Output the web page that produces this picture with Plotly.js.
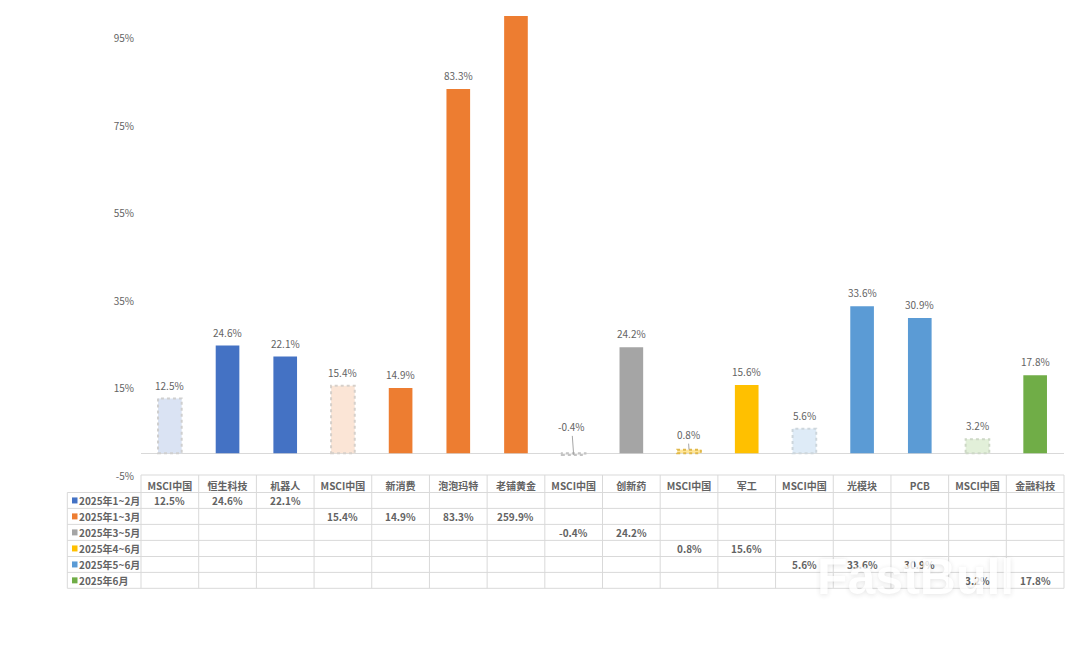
<!DOCTYPE html>
<html><head><meta charset="utf-8">
<script src="https://cdn.plot.ly/plotly-3.0.1.min.js"></script>
<style>html,body{margin:0;padding:0;background:#fff}#c{width:1080px;height:645px}</style>
</head><body><div id="c"></div>
<script>
const categories = ['MSCI中国','恒生科技','机器人','MSCI中国','新消费','泡泡玛特','老铺黄金','MSCI中国','创新药','MSCI中国','军工','MSCI中国','光模块','PCB','MSCI中国','金融科技'];
const seriesNames = ['2025年1~2月','2025年1~3月','2025年3~5月','2025年4~6月','2025年5~6月','2025年6月'];
const s1 = [12.5,24.6,22.1];
const s2 = [15.4,14.9,83.3,259.9];
const s3 = [-0.4,24.2];
const s4 = [0.8,15.6];
const s5 = [5.6,33.6,30.9];
const s6 = [3.2,17.8];
const seriesValues = [s1,s2,s3,s4,s5,s6];
const yTickValues = [-5,15,35,55,75,95];
const yTickLabels = ['-5%','15%','35%','55%','75%','95%'];
const seriesColors = ['#4472C4','#ED7D31','#A5A5A5','#FFC000','#5B9BD5','#70AD47'];
const lightColors = ['#DAE3F3','#FBE5D6','#EDEDED','#FFE699','#DEEBF7','#E2F0D9'];
const dotColors = ['#CFCFCF','#D6D0CA','#C4C4C4','#E0B84A','#CDD6DC','#CDD8C6'];

const W=1080,H=645,L=141,R=1064,T=16,B=475;
const N=categories.length;
const py=p=>1-(p-T)/(B-T), px=p=>(p-L)/(R-L);
const GRID='#D9D9D9', TXT='#636363', FONT='"Noto Sans CJK SC","Noto Sans",sans-serif';
const rowLines=[475,492.5,508.4,524.4,540.4,556.5,572.4,588.3];
const traces=[],shapes=[],ann=[];
let idx=0;
const line=(x0,y0,x1,y1)=>({type:'line',xref:'paper',yref:'paper',x0:px(x0),x1:px(x1),y0:py(y0),y1:py(y1),line:{color:GRID,width:1},layer:'below'});
seriesValues.forEach((vals,s)=>{
  const xs=vals.map((_,k)=>idx+k);
  const isLight=xs.map(i=>categories[i]==='MSCI中国');
  traces.push({type:'bar',x:xs,y:vals,name:seriesNames[s],width:0.41,showlegend:false,hoverinfo:'skip',
    marker:{color:isLight.map(b=>b?lightColors[s]:seriesColors[s]),line:{width:0}}});
  const ym=(rowLines[s+1]+rowLines[s+2])/2;
  vals.forEach((v,k)=>{
    const i=xs[k], label=v.toFixed(1)+'%';
    if(isLight[k]) shapes.push({type:'rect',xref:'x',yref:'y',x0:i-0.205,x1:i+0.205,y0:Math.min(v,0),y1:Math.max(v,0),
      line:{color:dotColors[s],width:2,dash:'dot'},layer:'above'});
    if(Math.abs(v)<1){
      ann.push({x:i,y:v,xref:'x',yref:'y',text:label,showarrow:true,arrowhead:0,arrowwidth:1,arrowcolor:'#A6A6A6',
        ax:v<0?-2:-1,ay:v<0?-28:-15,font:{size:10,color:TXT,family:FONT}});
    } else if(v<=100){
      ann.push({x:i,y:v,xref:'x',yref:'y',text:label,showarrow:false,yanchor:'bottom',yshift:4,font:{size:10,color:TXT,family:FONT}});
    }
    ann.push({x:i,y:py(ym),xref:'x',yref:'paper',xanchor:'center',yanchor:'middle',text:label,showarrow:false,
      font:{size:10,color:TXT,family:FONT,weight:600}});
  });
  idx+=vals.length;
  shapes.push({type:'rect',xref:'paper',yref:'paper',x0:px(72),x1:px(77.5),y0:py(ym-3),y1:py(ym+3),fillcolor:seriesColors[s],line:{width:0}});
  ann.push({x:px(77),y:py(ym),xref:'paper',yref:'paper',xanchor:'left',yanchor:'middle',text:seriesNames[s],showarrow:false,font:{size:10,color:TXT,family:FONT,weight:600}});
});
rowLines.forEach((y,i)=>shapes.push(line(i===0?L:67.3,y,R,y)));
shapes.push(line(67.3,492.5,67.3,588.3));
for(let i=0;i<=N;i++){const x=L+(R-L)*i/N;shapes.push(line(x,475,x,588.3));}
ann.push({x:px(915),y:py(577),xref:'paper',yref:'paper',xanchor:'center',yanchor:'middle',text:'FastBull',showarrow:false,opacity:0.8,
  font:{size:50,color:'#FFFFFF',family:'"Liberation Sans",sans-serif',weight:700,shadow:'0 1px 5px rgba(0,0,0,0.13)'}});

Plotly.newPlot('c',traces,{
  width:W,height:H,margin:{l:L,r:W-R,t:T,b:H-B,pad:0},paper_bgcolor:'#fff',plot_bgcolor:'#fff',
  barmode:'overlay',showlegend:false,
  xaxis:{range:[-0.5,N-0.5],tickmode:'array',tickvals:categories.map((_,i)=>i),ticktext:categories,showgrid:false,zeroline:false,showline:false,
    ticks:'outside',ticklen:2,tickcolor:'rgba(0,0,0,0)',tickangle:0,tickfont:{size:10,color:TXT,family:FONT,weight:600}},
  yaxis:{range:[-5,100],tickmode:'array',tickvals:yTickValues,ticktext:yTickLabels,ticklabelshift:1,showgrid:false,zeroline:true,zerolinecolor:GRID,zerolinewidth:1,showline:false,
    ticks:'outside',ticklen:4,tickcolor:'rgba(0,0,0,0)',tickfont:{size:10,color:TXT,family:FONT}},
  shapes,annotations:ann
},{displayModeBar:false});
</script></body></html>
